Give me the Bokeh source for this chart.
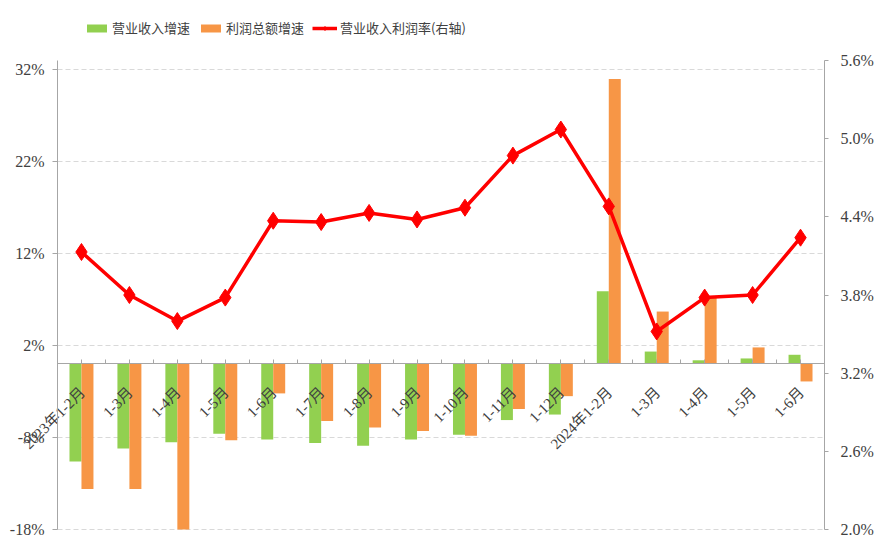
import numpy as np
from bokeh.plotting import figure
from bokeh.models import (ColumnDataSource, Range1d, LinearAxis, FixedTicker,
                          PrintfTickFormatter, Legend, LegendItem)
from bokeh.core.properties import value
from bokeh.embed import file_html
from bokeh.resources import INLINE
import math

categories = ["2023年1-2月", "1-3月", "1-4月", "1-5月", "1-6月", "1-7月", "1-8月",
              "1-9月", "1-10月", "1-11月", "1-12月", "2024年1-2月", "1-3月", "1-4月",
              "1-5月", "1-6月"]
revenue_growth = [-10.6, -9.2, -8.5, -7.6, -8.2, -8.6, -8.9, -8.2, -7.7, -6.1, -5.5,
                  7.9, 1.35, 0.4, 0.6, 1.0]
profit_growth = [-13.6, -13.6, -18.0, -8.3, -3.2, -6.2, -6.9, -7.3, -7.8, -4.9, -3.5,
                 31.0, 5.7, 7.2, 1.8, -1.9]
profit_margin = [4.13, 3.80, 3.60, 3.78, 4.37, 4.36, 4.43, 4.38, 4.47, 4.87, 5.07,
                 4.48, 3.52, 3.78, 3.80, 4.24]
left_ticks = [-18, -8, 2, 12, 22, 32]
right_ticks = [2.0, 2.6, 3.2, 3.8, 4.4, 5.0, 5.6]
legend_labels = ["营业收入增速", "利润总额增速", "营业收入利润率(右轴)"]

GREEN = "#92D050"
ORANGE = "#F79646"
RED = "#FF0000"
AXIS_GRAY = "#A6A6A6"
TEXT = "#404040"
NUM_FONT = "'Liberation Serif', 'Noto Sans CJK SC'"
CJK_FONT = "'Noto Sans CJK SC'"

# layout (pixels)
n = len(categories)
PLOT_W, PLOT_H = 767, 469     # axes area
LEFT_PAD, RIGHT_PAD = 57, 52  # room for the value axes
TOP_PAD, BOTTOM_PAD = 60, 14  # room for legend / bottom margin
LEFT_MIN, LEFT_MAX = -18, 33
RIGHT_MIN, RIGHT_MAX = 2.0, 5.6
cat_px = PLOT_W / n
x_start = -0.5 - LEFT_PAD / cat_px
x_end = n - 0.5 + RIGHT_PAD / cat_px
l_px = PLOT_H / (LEFT_MAX - LEFT_MIN)
r_px = PLOT_H / (RIGHT_MAX - RIGHT_MIN)

x = np.arange(n)
src = ColumnDataSource(dict(x=x, xg=x - 0.125, xo=x + 0.125, lab=categories,
                            rev=revenue_growth, prof=profit_growth, marg=profit_margin))

p = figure(frame_width=PLOT_W + LEFT_PAD + RIGHT_PAD, frame_height=PLOT_H + TOP_PAD + BOTTOM_PAD,
           min_border_left=0, min_border_right=0, min_border_top=0, min_border_bottom=0,
           x_range=Range1d(x_start, x_end),
           y_range=Range1d(LEFT_MIN - BOTTOM_PAD / l_px, LEFT_MAX + TOP_PAD / l_px),
           output_backend="svg", toolbar_location=None, background_fill_color="white")
p.outline_line_color = None
p.extra_y_ranges = {"right": Range1d(RIGHT_MIN - BOTTOM_PAD / r_px, RIGHT_MAX + TOP_PAD / r_px)}

# grid
p.xgrid.grid_line_color = None
p.ygrid.ticker = FixedTicker(ticks=left_ticks)
p.ygrid.grid_line_color = "#D9D9D9"
p.ygrid.grid_line_dash = "5 3"
p.ygrid.cross_bounds = (-0.5, n - 0.5)

# bars
r_g = p.vbar(x="xg", top="rev", bottom=0, width=0.25, source=src,
             fill_color=GREEN, line_color=None)
r_o = p.vbar(x="xo", top="prof", bottom=0, width=0.25, source=src,
             fill_color=ORANGE, line_color=None)
# line
r_l = p.line(x="x", y="marg", source=src, line_color=RED, line_width=3.5,
             y_range_name="right")
r_m = p.scatter(x="x", y="marg", source=src, marker="diamond", size=17,
                fill_color=RED, line_color=RED, y_range_name="right")

# x axis at zero
xa = p.xaxis[0]
xa.fixed_location = 0
xa.bounds = (-0.5, n - 0.5)
xa.ticker = FixedTicker(ticks=list(x), minor_ticks=[i - 0.5 for i in range(n + 1)])
xa.major_label_text_font_size = "0px"
xa.major_label_overrides = {int(i): "" for i in x}
xa.axis_line_color = AXIS_GRAY
xa.major_tick_line_color = AXIS_GRAY
xa.minor_tick_line_color = AXIS_GRAY
xa.major_tick_in = 4
xa.major_tick_out = 0
xa.minor_tick_in = 4
xa.minor_tick_out = 0

# rotated category labels hanging from the zero axis
p.text(x="x", y=0, text="lab", source=src, angle=math.pi / 4,
       text_align="right", text_baseline="middle", y_offset=26, x_offset=1,
       text_font=value(NUM_FONT), text_font_size="15px", text_color=TEXT)

# left axis
ya = p.yaxis[0]
ya.fixed_location = -0.5
ya.bounds = (LEFT_MIN, LEFT_MAX)
ya.ticker = FixedTicker(ticks=left_ticks)
ya.formatter = PrintfTickFormatter(format="%d%%")
ya.axis_line_color = AXIS_GRAY
ya.major_tick_line_color = AXIS_GRAY
ya.minor_tick_line_color = None
ya.major_tick_in = 0
ya.major_tick_out = 5
ya.major_label_standoff = 8
ya.major_label_text_font = NUM_FONT
ya.major_label_text_font_size = "16px"
ya.major_label_text_color = TEXT

# right axis
ra = LinearAxis(y_range_name="right", ticker=FixedTicker(ticks=right_ticks),
                formatter=PrintfTickFormatter(format="%.1f%%"), bounds=(RIGHT_MIN, RIGHT_MAX))
ra.fixed_location = n - 0.5
ra.axis_line_color = AXIS_GRAY
ra.major_tick_line_color = AXIS_GRAY
ra.minor_tick_line_color = None
ra.major_tick_in = 0
ra.major_tick_out = 4
ra.major_label_standoff = 12
ra.major_label_text_font = NUM_FONT
ra.major_label_text_font_size = "16px"
ra.major_label_text_color = TEXT
p.add_layout(ra, "right")

legend = Legend(items=[LegendItem(label=legend_labels[0], renderers=[r_g]),
                       LegendItem(label=legend_labels[1], renderers=[r_o]),
                       LegendItem(label=legend_labels[2], renderers=[r_l, r_m])],
                orientation="horizontal", location=(84, PLOT_H + BOTTOM_PAD + 23),
                label_text_font=CJK_FONT, label_text_font_size="13px",
                label_text_color=TEXT, glyph_width=25, glyph_height=10,
                label_standoff=3, spacing=8, padding=0, margin=0,
                border_line_color=None, background_fill_alpha=0)
p.add_layout(legend, "center")

open("out.html", "w").write(file_html(p, INLINE))
